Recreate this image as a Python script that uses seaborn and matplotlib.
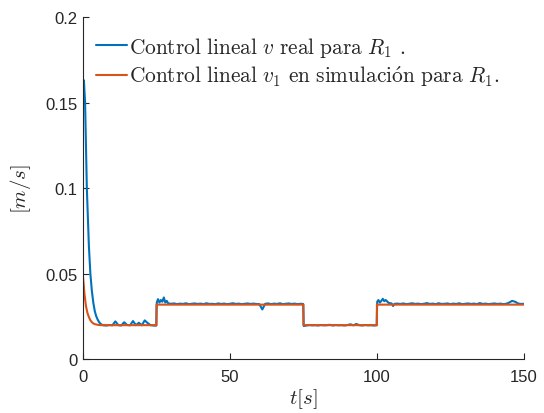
import matplotlib
matplotlib.use("Agg")
import matplotlib.pyplot as plt
import seaborn as sns
import pandas as pd

# ---- data ----
t_real = ([0, 0.3, 0.7, 1.0, 1.3, 1.7, 2.0, 2.5, 3.0, 3.5, 4.0, 4.5, 5.0, 5.5, 6.0, 6.5, 7.0]
          + list(range(8, 25))
          + [24.9, 25.1, 25.5, 26, 26.5, 27, 27.5, 28, 28.5, 29]
          + list(range(30, 75))
          + [74.9, 75.1]
          + list(range(76, 100))
          + [99.9, 100.1, 100.5, 101, 101.5, 102, 102.5, 103, 104, 105, 105.5, 106]
          + list(range(107, 151)))

v_real = ([0.150, 0.163, 0.150, 0.125, 0.100, 0.080, 0.066, 0.050, 0.040, 0.033, 0.028, 0.025,
           0.023, 0.0215, 0.0205, 0.0200, 0.0197]
          + [0.0196, 0.0199, 0.0197, 0.0220, 0.0198, 0.0196, 0.0215, 0.0199, 0.0197, 0.0222,
             0.0198, 0.0212, 0.0197, 0.0226, 0.0210, 0.0198, 0.0196]
          + [0.0195, 0.0330, 0.0350, 0.0330, 0.0345, 0.0335, 0.0360, 0.0330, 0.0340, 0.0325]
          + [0.0323, 0.0325, 0.0321, 0.0324, 0.0322, 0.0326, 0.0321, 0.0323, 0.0325, 0.0322,
             0.0324, 0.0321, 0.0326, 0.0322, 0.0323, 0.0321, 0.0325, 0.0322, 0.0324, 0.0321,
             0.0323, 0.0326, 0.0322, 0.0324, 0.0321, 0.0323, 0.0325, 0.0322, 0.0324, 0.0322,
             0.0321, 0.0290, 0.0323, 0.0325, 0.0321, 0.0324, 0.0322, 0.0326, 0.0321, 0.0323,
             0.0325, 0.0322, 0.0324, 0.0321, 0.0323]
          + [0.0322, 0.0193]
          + [0.0196, 0.0199, 0.0197, 0.0198, 0.0196, 0.0199, 0.0197, 0.0198, 0.0200, 0.0196,
             0.0199, 0.0197, 0.0198, 0.0196, 0.0199, 0.0203, 0.0197, 0.0205, 0.0198, 0.0196,
             0.0199, 0.0197, 0.0198, 0.0196]
          + [0.0197, 0.0335, 0.0345, 0.0330, 0.0340, 0.0352, 0.0338, 0.0345, 0.0328, 0.0325,
             0.0310, 0.0323]
          + [0.0324, 0.0322, 0.0325, 0.0321, 0.0323, 0.0326, 0.0322, 0.0324, 0.0321, 0.0323,
             0.0327, 0.0322, 0.0324, 0.0321, 0.0326, 0.0322, 0.0323, 0.0325, 0.0321, 0.0324,
             0.0322, 0.0326, 0.0321, 0.0323, 0.0325, 0.0322, 0.0324, 0.0321, 0.0327, 0.0322,
             0.0324, 0.0321, 0.0323, 0.0325, 0.0322, 0.0324, 0.0321, 0.0323, 0.0330, 0.0340,
             0.0335, 0.0325, 0.0322, 0.0323])

t_sim = [0, 0.5, 1, 1.5, 2, 2.5, 3, 3.5, 4, 5, 6, 25, 25, 75, 75, 100, 100, 150]
v_sim = [0.048, 0.038, 0.031, 0.027, 0.0245, 0.0227, 0.0215, 0.0208, 0.0204, 0.0200, 0.0198,
         0.0198, 0.0318, 0.0318, 0.0198, 0.0198, 0.0318, 0.0318]

label_real = r"$\mathrm{Control\ lineal}\ v\ \mathrm{real\ para}\ R_1\ .$"
label_sim = r"$\mathrm{Control\ lineal}\ v_1\ \mathrm{en\ simulaci\acute{o}n\ para}\ R_1.$"
x_ticks = [0, 50, 100, 150]
y_ticks = [0, 0.05, 0.1, 0.15, 0.2]
y_tick_labels = ["0", "0.05", "0.1", "0.15", "0.2"]

df_real = pd.DataFrame({"t": t_real, "v": v_real})
df_sim = pd.DataFrame({"t": t_sim, "v": v_sim})

# ---- style ----
sns.set_style("ticks")
plt.rcParams["font.family"] = ["Liberation Sans", "DejaVu Sans"]
plt.rcParams["mathtext.fontset"] = "cm"
plt.rcParams["xtick.direction"] = "in"
plt.rcParams["ytick.direction"] = "in"

fig = plt.figure(figsize=(5.44, 4.14), dpi=100)
ax = fig.add_axes([0.1526, 0.1304, 0.8104, 0.8261])

sns.lineplot(data=df_real, x="t", y="v", ax=ax, color="#0072BD", linewidth=1.5,
             estimator=None, sort=False, label=label_real)
sns.lineplot(data=df_sim, x="t", y="v", ax=ax, color="#D95319", linewidth=1.5,
             estimator=None, sort=False, label=label_sim)

ax.set_xlim(0, 150)
ax.set_ylim(0, 0.2)
ax.set_xticks(x_ticks)
ax.set_yticks(y_ticks)
ax.set_yticklabels(y_tick_labels)
ax.tick_params(axis="both", labelsize=12, colors="#262626", length=4, width=0.8)
ax.tick_params(axis="x", pad=7)
ax.tick_params(axis="y", pad=4)
for s in ["left", "bottom"]:
    ax.spines[s].set_color("#262626")
    ax.spines[s].set_linewidth(0.8)
sns.despine(ax=ax)

ax.set_xlabel(r"$t[s]$", fontsize=15, labelpad=2)
ax.set_ylabel(r"$[m/s]$", fontsize=15, labelpad=9)

leg = ax.legend(loc="upper left", frameon=False, fontsize=15.4, handlelength=1.45,
                handletextpad=0.1, borderaxespad=0.2, labelspacing=0.2,
                bbox_to_anchor=(0.0, 0.985))

fig.savefig("out.png", dpi=100)
